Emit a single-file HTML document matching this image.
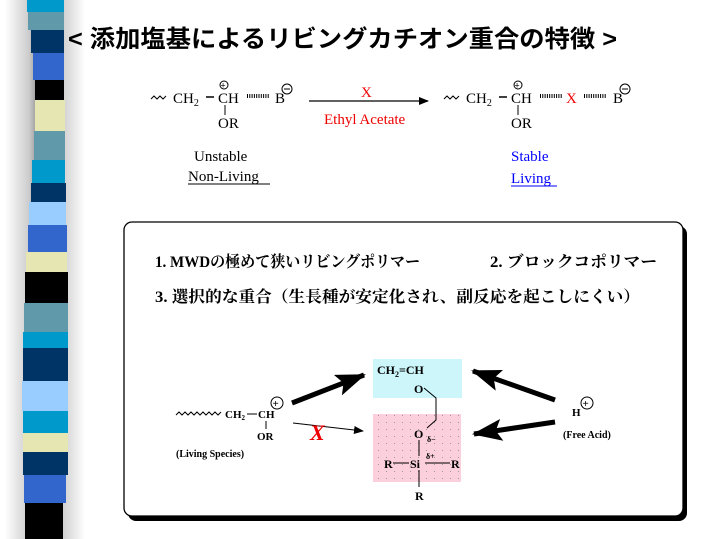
<!DOCTYPE html>
<html><head><meta charset="utf-8"><style>
html,body{margin:0;padding:0;background:#fff;width:719px;height:539px;overflow:hidden}
svg text{font-family:"Liberation Serif","Noto Serif CJK SC",serif;font-weight:bold}
svg text.n{font-weight:normal}
.jp{font-family:"Liberation Sans","Noto Sans CJK JP",sans-serif;font-weight:bold}
.jps{font-family:"Liberation Serif","Noto Serif CJK SC",serif;font-weight:bold}
</style></head><body>
<svg width="719" height="539" viewBox="0 0 719 539" xmlns="http://www.w3.org/2000/svg">
<defs>
<linearGradient id="sh" x1="0" x2="1">
<stop offset="0" stop-color="#fff"/><stop offset="0.3" stop-color="#ccc"/><stop offset="0.5" stop-color="#666"/><stop offset="0.7" stop-color="#ccc"/><stop offset="1" stop-color="#fff"/>
</linearGradient>
<pattern id="dots" width="8" height="7" patternUnits="userSpaceOnUse"><rect x="2" y="2" width="1" height="1" fill="#999"/></pattern>
<marker id="ah" markerWidth="10" markerHeight="8" refX="9" refY="4" orient="auto" markerUnits="userSpaceOnUse"><path d="M0,0 L10,4 L0,8 Z" fill="#000"/></marker>
<marker id="big" markerWidth="30" markerHeight="22" refX="28" refY="11" orient="auto" markerUnits="userSpaceOnUse"><path d="M0,0 L30,11 L0,22 L6,11 Z" fill="#000"/></marker>
</defs>
<rect x="5" y="0" width="80" height="539" fill="url(#sh)"/>
<g>
<rect x="27" y="0" width="37" height="12" fill="#0099cc"/>
<rect x="28" y="12" width="36" height="18" fill="#5f99aa"/>
<rect x="31" y="30" width="33" height="23" fill="#003366"/>
<rect x="33" y="53" width="31" height="27" fill="#3366cc"/>
<rect x="35" y="80" width="29" height="20" fill="#000"/>
<rect x="35" y="100" width="30" height="31" fill="#e6e6b3"/>
<rect x="34" y="131" width="31" height="29" fill="#5f99aa"/>
<rect x="32" y="160" width="33" height="23" fill="#0099cc"/>
<rect x="31" y="183" width="35" height="19" fill="#003366"/>
<rect x="29" y="202" width="37" height="23" fill="#99ccff"/>
<rect x="28" y="225" width="39" height="27" fill="#3366cc"/>
<rect x="26" y="252" width="41" height="20" fill="#e6e6b3"/>
<rect x="25" y="272" width="43" height="31" fill="#000"/>
<rect x="24" y="303" width="44" height="29" fill="#5f99aa"/>
<rect x="23" y="332" width="45" height="16" fill="#0099cc"/>
<rect x="23" y="348" width="45" height="33" fill="#003366"/>
<rect x="22" y="381" width="46" height="30" fill="#99ccff"/>
<rect x="23" y="411" width="45" height="22" fill="#0099cc"/>
<rect x="23" y="433" width="45" height="19" fill="#e6e6b3"/>
<rect x="23" y="452" width="45" height="23" fill="#003366"/>
<rect x="24" y="475" width="42" height="28" fill="#3366cc"/>
<rect x="25" y="503" width="38" height="36" fill="#000"/>
</g>
<text x="68" y="47" class="jp" font-size="24" fill="#000" textLength="549" lengthAdjust="spacingAndGlyphs">&lt; 添加塩基によるリビングカチオン重合の特徴 &gt;</text>

<!-- top reaction left -->
<path d="M151,99 l3,-3 l3,3 l3,-3 l3,3 l3,-3" stroke="#000" fill="none"/>
<text x="173" y="103" font-size="15" class="n">CH<tspan font-size="10" dy="3">2</tspan></text>
<line x1="206" y1="97" x2="214" y2="97" stroke="#000" stroke-width="1.5"/>
<text x="218" y="103" font-size="15" class="n">CH</text>
<circle cx="224" cy="85" r="4" fill="none" stroke="#000"/><text x="220.5" y="88.5" font-size="9" font-family="Liberation Sans">+</text>
<line x1="225" y1="105" x2="225" y2="115" stroke="#000"/>
<text x="218" y="128" font-size="15" class="n">OR</text>
<line x1="247" y1="96" x2="269" y2="96" stroke="#000" stroke-width="4" stroke-dasharray="1,1.3"/>
<text x="275" y="103" font-size="15" class="n">B</text>
<circle cx="287" cy="89" r="5" fill="none" stroke="#000"/><line x1="284" y1="89" x2="290" y2="89" stroke="#000"/>
<text x="194" y="161" font-size="15" class="n">Unstable</text>
<text x="188" y="181" font-size="15" class="n">Non-Living</text>
<line x1="188" y1="184" x2="270" y2="184" stroke="#000"/>

<!-- arrow -->
<line x1="309" y1="101" x2="428" y2="101" stroke="#000" stroke-width="1.3" marker-end="url(#ah)"/>
<text x="361" y="97" font-size="15" fill="#e00" class="n">X</text>
<text x="324" y="124" font-size="15" fill="#e00" class="n">Ethyl Acetate</text>

<!-- right -->
<path d="M444,99 l3,-3 l3,3 l3,-3 l3,3 l3,-3" stroke="#000" fill="none"/>
<text x="466" y="103" font-size="15" class="n">CH<tspan font-size="10" dy="3">2</tspan></text>
<line x1="499" y1="97" x2="507" y2="97" stroke="#000" stroke-width="1.5"/>
<text x="511" y="103" font-size="15" class="n">CH</text>
<circle cx="518" cy="85" r="4" fill="none" stroke="#000"/><text x="514.5" y="88.5" font-size="9" font-family="Liberation Sans">+</text>
<line x1="518" y1="105" x2="518" y2="115" stroke="#000"/>
<text x="511" y="128" font-size="15" class="n">OR</text>
<line x1="540" y1="96" x2="562" y2="96" stroke="#000" stroke-width="4" stroke-dasharray="1,1.3"/>
<text x="566" y="103" font-size="15" fill="#e00" class="n">X</text>
<line x1="584" y1="96" x2="606" y2="96" stroke="#000" stroke-width="4" stroke-dasharray="1,1.3"/>
<text x="613" y="103" font-size="15" class="n">B</text>
<circle cx="625" cy="89" r="5" fill="none" stroke="#000"/><line x1="622" y1="89" x2="628" y2="89" stroke="#000"/>
<text x="511" y="161" font-size="15" fill="#00f" class="n">Stable</text>
<text x="511" y="183" font-size="15" fill="#00f" class="n">Living</text>
<line x1="511" y1="186" x2="557" y2="186" stroke="#00f"/>

<!-- box -->
<rect x="128" y="226" width="559" height="295" rx="8" fill="#000"/>
<rect x="124" y="222" width="559" height="294" rx="8" fill="#fff" stroke="#000" stroke-width="1.3"/>
<text x="155" y="267" class="jps" font-size="16" textLength="265" lengthAdjust="spacingAndGlyphs">1. MWDの極めて狭いリビングポリマー</text>
<text x="490" y="267" class="jps" font-size="16" textLength="167" lengthAdjust="spacingAndGlyphs">2. ブロックコポリマー</text>
<text x="155" y="302" class="jps" font-size="16" textLength="485" lengthAdjust="spacingAndGlyphs">3. 選択的な重合（生長種が安定化され、副反応を起こしにくい）</text>

<rect x="373" y="359" width="89" height="39" fill="#ccf6fa"/>
<rect x="373" y="414" width="88" height="68" fill="#fbd0dc"/>
<rect x="373" y="414" width="88" height="68" fill="url(#dots)"/>
<text x="377" y="374" font-size="12">CH<tspan font-size="8" dy="3">2</tspan><tspan dy="-3">=CH</tspan></text>
<text x="414" y="393" font-size="12">O</text>
<path d="M424,388 L436,398 L436,420 L427,428" stroke="#000" fill="none"/>
<text x="414" y="438" font-size="12">O</text>
<text x="427" y="442" font-size="8">δ−</text>
<text x="426" y="459" font-size="8">δ+</text>
<line x1="419" y1="440" x2="419" y2="456" stroke="#000"/>
<text x="410" y="468" font-size="12">Si</text>
<text x="384" y="468" font-size="12">R</text>
<text x="451" y="468" font-size="12">R</text>
<line x1="393" y1="463" x2="409" y2="463" stroke="#000"/>
<line x1="425" y1="463" x2="450" y2="463" stroke="#000"/>
<line x1="419" y1="470" x2="419" y2="487" stroke="#000"/>
<text x="415" y="500" font-size="12">R</text>

<path d="M176,415 l3,-3 l3,3 l3,-3 l3,3 l3,-3 l3,3 l3,-3 l3,3 l3,-3 l3,3 l3,-3 l3,3 l3,-3 l3,3 l3,-3" stroke="#000" fill="none"/>
<text x="225" y="418" font-size="11">CH<tspan font-size="7" dy="2">2</tspan></text>
<line x1="247" y1="414" x2="257" y2="414" stroke="#000"/>
<text x="258" y="418" font-size="11">CH</text>
<line x1="266" y1="421" x2="266" y2="429" stroke="#000"/>
<text x="257" y="440" font-size="11">OR</text>
<circle cx="277" cy="403" r="6" fill="none" stroke="#000"/><text x="272.5" y="407" font-size="11" font-family="Liberation Sans">+</text>
<text x="176" y="457" font-size="10">(Living Species)</text>

<line x1="292" y1="403" x2="364" y2="375" stroke="#000" stroke-width="5" marker-end="url(#big)"/>
<line x1="293" y1="423" x2="363" y2="431" stroke="#000" stroke-width="1" marker-end="url(#ah)"/>
<text x="310" y="440" font-size="22" fill="#e00" font-family="Liberation Sans" font-style="italic">X</text>
<line x1="555" y1="400" x2="473" y2="371" stroke="#000" stroke-width="5" marker-end="url(#big)"/>
<line x1="555" y1="422" x2="474" y2="434" stroke="#000" stroke-width="5" marker-end="url(#big)"/>
<text x="572" y="416" font-size="11">H</text>
<circle cx="587" cy="403" r="6" fill="none" stroke="#000"/><text x="582.5" y="407" font-size="11" font-family="Liberation Sans">+</text>
<text x="563" y="438" font-size="10">(Free Acid)</text>
</svg>
</body></html>
